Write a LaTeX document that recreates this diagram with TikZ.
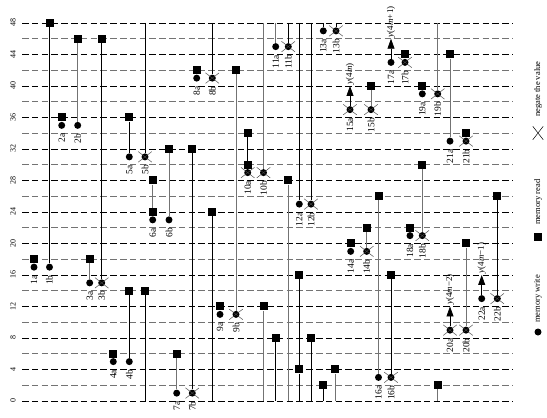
\documentclass[tikz,border=0pt]{standalone}
\usepackage{fontspec}
\setmainfont{Liberation Serif}
\usetikzlibrary{arrows.meta,shapes.misc}

\begin{document}
\begin{tikzpicture}[x=1pt,y=7.875pt,
  grid/.style={line width=0.7pt,dash pattern=on 6.5pt off 3.3pt},
  stem/.style={line width=0.8pt},
  gstem/.style={line width=0.8pt,black!55},
  rdsq/.style={rectangle,fill,inner sep=0pt,minimum size=8pt},
  wrdot/.style={circle,fill,inner sep=0pt,minimum size=7pt},
  negx/.style={cross out,draw,black!75,line width=0.45pt,inner sep=0pt,minimum width=13pt,minimum height=10pt},
  collab/.style={rotate=90,anchor=east,inner sep=0pt,font=\fontsize{9.5}{9.5}\selectfont},
  ylab/.style={rotate=90,inner sep=0pt,font=\fontsize{8}{8}\selectfont},
  outlab/.style={rotate=90,anchor=west,inner sep=1.5pt,font=\fontsize{9}{9}\selectfont},
  keylab/.style={rotate=90,anchor=west,inner sep=0pt,font=\fontsize{8.5}{8.5}\selectfont},
  outarr/.style={line width=0.8pt,-{Triangle[length=10pt,width=7pt]}}]
\useasboundingbox (0pt,-17pt) rectangle (547pt,401pt);
\foreach \v in {0,4,...,48} {
  \draw[grid] (22,\v) -- (513,\v);
  \node[ylab] (y\v) at (13,\v) {\v};
}
\foreach \v in {2,6,...,46}
  \draw[grid,black!55] (22,\v) -- (513,\v);
\foreach \n/\x/\y in {1a/34/18,1b/49.5/48,2a/61.7/36,2b/77.7/46,3a/89.7/18,3b/101.7/46,
    4a/113.3/6,4b/129.3/14,5a/129.3/36,6a/152.7/28,6a2/152.7/24,6b/169/32,7a/176.7/6,
    7b/192.3/32,8a/196.7/42,9a/220/12,9b/236/42,10a/247.7/34,10a2/247.7/30,14a/350.7/20,
    14b/366.7/22,15b/371/40,16a/378.5/26,16b/391/16,17b/405/44,18a/410/22,18b/422.3/30,
    19a/422.3/40,20b/466/20,21a/450/44,21b/466/34,22b/497.3/26}
  \node[rdsq] (r\n) at (\x,\y) {};
\foreach \n/\x/\y in {1/145/14,2/212.3/24,3/263.5/12,4/275.7/8,5/288.3/28,6/299.3/16,
    7/299.3/4,8/311/8,9/323.3/2,10/335/4,11/437.7/2}
  \node[rdsq] (q\n) at (\x,\y) {};
\foreach \n/\x in {1/145,2/212.3,3/263.5,4/275.7,5/288.3,6/299.3,8/311,9/323.3,10/335,11/437.7}
  \coordinate (e\n) at (\x,0);
\foreach \n/\x in {5b/145,8b/212.3,10b/263.5,11a/275.7,11b/288.3,12a/299.3,12b/311,
    13a/323.3,13b/336,19b/437.7}
  \coordinate (t\n) at (\x,48);
\foreach \n/\x/\y in {1a/34/17,1b/49.5/17,2a/61.7/35,2b/77.7/35,3a/89.7/15,4a/113.3/5,
    4b/129.3/5,5a/129.3/31,6a/152.7/23,6b/169/23,7a/176.7/1,8a/196.7/41,9a/220/11,
    11a/275.7/45,12a/299.3/25,13a/323.3/47,14a/350.7/19,16a/378.5/3,17a/391/43,
    18a/410/21,19a/422.3/39,21a/450/33,22a/481.7/13}
  \node[wrdot] (w\n) at (\x,\y) {};
\foreach \n/\x/\y in {3b/101.7/15,5b/145/31,7b/192.3/1,8b/212.3/41,9b/236/11,10a/247.7/29,
    10b/263.5/29,11b/288.3/45,12b/311/25,13b/336/47,14b/366.7/19,15a/350/37,15b/371/37,
    16b/391/3,17b/405/43,18b/422.3/21,19b/437.7/39,20a/450/9,20b/466/9,21b/466/33,22b/497.3/13}
  {\node[wrdot] (w\n) at (\x,\y) {};
   \node[negx] (x\n) at (w\n) {};}
\foreach \a/\b in {r1b/w1b,r3b/w3b,r4b/w4b,r5a/w5a,t5b/w5b,r7b/w7b,t8b/w8b,q1/e1,q2/e2,
    t11b/w11b,q4/e4,t12a/w12a,t12b/w12b,q8/e8,q9/e9,t13a/w13a,t13b/w13b,r16b/w16b,r22b/w22b}
  \draw[stem] (\a) -- (\b);
\foreach \a/\b in {r2b/w2b,r3a/w3a,r6b/w6b,r7a/w7a,r9b/w9b,t10b/w10b,q3/e3,t11a/w11a,
    q5/e5,q10/e10,r14b/w14b,r15b/w15b,r16a/w16a,r18b/w18b,t19b/w19b,r20b/w20b,r21a/w21a,q11/e11}
  \draw[gstem] (\a) -- (\b);
\draw[gstem] (r6a) -- (r6a2) -- (w6a);
\draw[stem] (r10a) -- (r10a2) -- (w10a);
\draw[stem] (q6) -- (q7) -- (e6);
\foreach \n/\x/\y in {15a/350/40,17a/391/46,20a/450/12,22a/481.7/16} {
  \coordinate (a\n) at (\x,\y);
  \draw[outarr] (w\n) -- (a\n);
}
\node[outlab] (o15a) at (a15a) {\textit{y}(4\textit{m})};
\node[outlab] (o17a) at (a17a) {\textit{y}(4\textit{m}+1)};
\node[outlab] (o20a) at (a20a) {\textit{y}(4\textit{m}−2)};
\node[outlab] (o22a) at (a22a) {\textit{y}(4\textit{m}−1)};
\foreach \n in {1a,1b,2a,2b,3a,3b,4a,4b,5a,5b,6a,6b,7a,7b,8a,8b,9a,9b,10a,10b,11a,11b,
    12a,12b,13a,13b,14a,14b,15a,15b,16a,16b,17a,17b,18a,18b,19a,19b,20a,20b,21a,21b,22a,22b}
  \node[collab] (l\n) at ([yshift=-8pt]w\n.center) {\n};
\node[cross out,draw,line width=0.5pt,inner sep=0pt,minimum width=10pt,minimum height=13pt] (kneg) at (538,34.03) {};
\node[keylab] (tneg) at (538,36.06) {negate the value};
\node[rdsq] (krd) at (538,20.83) {};
\node[keylab] (trd) at (538,22.35) {memory read};
\node[wrdot] (kwr) at (538,8.76) {};
\node[keylab] (twr) at (538,9.9) {memory write};
\end{tikzpicture}
\end{document}
